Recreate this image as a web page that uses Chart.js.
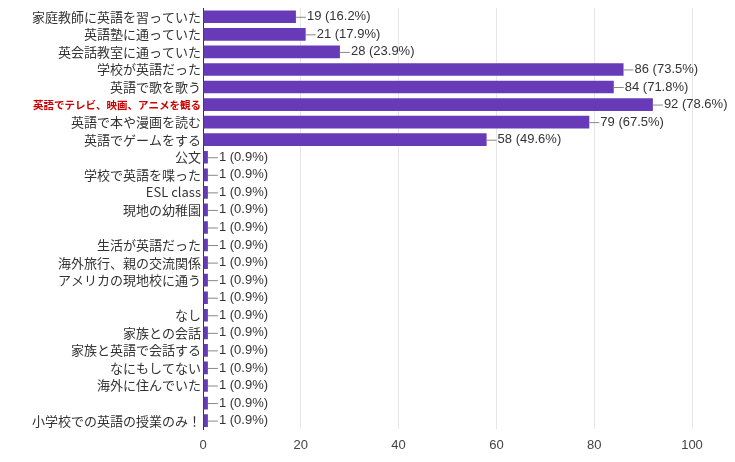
<!DOCTYPE html>
<html><head><meta charset="utf-8">
<script src="https://cdn.jsdelivr.net/npm/chart.js@4"></script>
<style>body{margin:0;background:#fff}#wrap{width:735px;height:462px}</style>
</head><body><div id="wrap"><canvas id="c"></canvas></div>
<script>
const categories = [
  '家庭教師に英語を習っていた', '英語塾に通っていた', '英会話教室に通っていた', '学校が英語だった',
  '英語で歌を歌う', '英語でテレビ、映画、アニメを観る', '英語で本や漫画を読む', '英語でゲームをする',
  '公文', '学校で英語を喋った', 'ESL class', '現地の幼稚園', '', '生活が英語だった',
  '海外旅行、親の交流関係', 'アメリカの現地校に通う', '', 'なし', '家族との会話',
  '家族と英語で会話する', 'なにもしてない', '海外に住んでいた', '', '小学校での英語の授業のみ！'
];
const counts = [19, 21, 28, 86, 84, 92, 79, 58, 1, 1, 1, 1, 1, 1, 1, 1, 1, 1, 1, 1, 1, 1, 1, 1];
const percents = ['16.2', '17.9', '23.9', '73.5', '71.8', '78.6', '67.5', '49.6',
  '0.9', '0.9', '0.9', '0.9', '0.9', '0.9', '0.9', '0.9', '0.9', '0.9', '0.9', '0.9', '0.9', '0.9', '0.9', '0.9'];
const xTicks = [0, 20, 40, 60, 80, 100];
const highlightIndex = 5;

// 값 라벨: 막대 끝에서 짧은 선 + 텍스트
const valueLabels = {
  id: 'valueLabels',
  afterDatasetsDraw(chart) {
    const ctx = chart.ctx;
    const meta = chart.getDatasetMeta(0);
    ctx.save();
    ctx.font = '13px Arial, "Liberation Sans", sans-serif';
    ctx.fillStyle = '#333';
    ctx.strokeStyle = '#888';
    ctx.lineWidth = 1;
    ctx.textBaseline = 'middle';
    meta.data.forEach((bar, i) => {
      ctx.beginPath();
      ctx.moveTo(bar.x, bar.y + 0.5);
      ctx.lineTo(bar.x + 10, bar.y + 0.5);
      ctx.stroke();
      ctx.fillText(`${counts[i]} (${percents[i]}%)`, bar.x + 11, bar.y);
    });
    ctx.restore();
  }
};

new Chart(document.getElementById('c'), {
  type: 'bar',
  data: {
    labels: categories,
    datasets: [{
      data: counts,
      backgroundColor: '#673ab7',
      barPercentage: 0.72,
      categoryPercentage: 1
    }]
  },
  options: {
    indexAxis: 'y',
    responsive: true,
    maintainAspectRatio: false,
    animation: false,
    layout: { padding: { top: 8, right: 43, bottom: 1, left: 0 } },
    plugins: { legend: { display: false }, tooltip: { enabled: false } },
    scales: {
      x: {
        min: 0, max: 100,
        afterBuildTicks: axis => { axis.ticks = xTicks.map(v => ({ value: v })); },
        grid: { color: '#e6e6e6', drawTicks: false },
        border: { display: false },
        ticks: { color: '#444', padding: 8, font: { family: 'Arial, "Liberation Sans", sans-serif', size: 13 } }
      },
      y: {
        afterFit: axis => { axis.width = 203; },
        grid: { display: false },
        border: { color: '#333' },
        ticks: {
          autoSkip: false,
          padding: -6,
          color: ctx => ctx.index === highlightIndex ? '#cc0000' : '#333',
          font: ctx => ctx.index === highlightIndex
            ? { family: '"Noto Sans CJK JP", sans-serif', size: 10.5, weight: 'bold' }
            : { family: '"Noto Sans CJK JP", sans-serif', size: 13 }
        }
      }
    }
  },
  plugins: [valueLabels]
});
</script></body></html>
